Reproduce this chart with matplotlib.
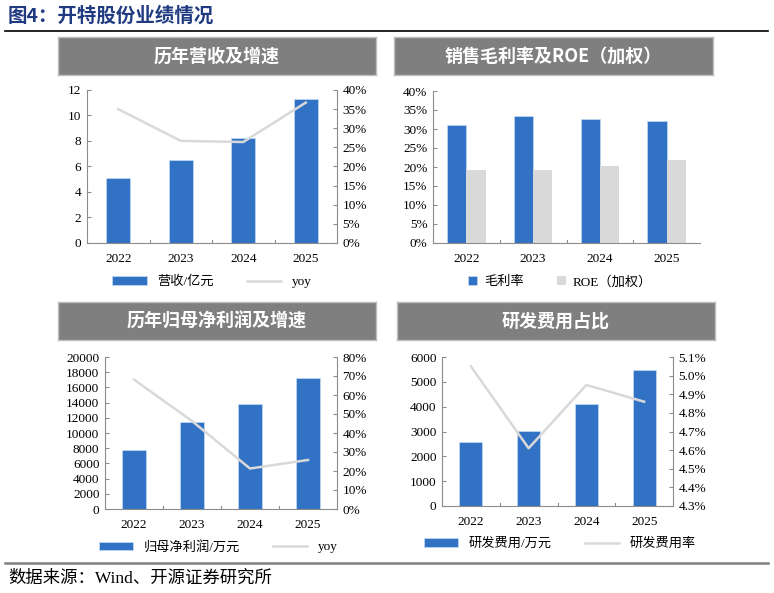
import matplotlib.pyplot as plt
import numpy as np
from matplotlib.ticker import FuncFormatter, MultipleLocator

plt.rcParams["font.family"] = ["Liberation Serif", "Noto Sans CJK SC"]
plt.rcParams["font.size"] = 9.5

W, H = 774, 593

years = ["2022", "2023", "2024", "2025"]

revenue = [5.08, 6.51, 8.24, 11.27]          # 亿元
revenue_yoy = [35.0, 26.7, 26.4, 36.7]       # %

gross_margin = [31.0, 33.4, 32.5, 32.0]      # %
roe = [19.2, 19.2, 20.3, 21.9]               # %

net_profit = [7770, 11400, 13880, 17290]     # 万元
profit_yoy = [68.1, 46.3, 21.3, 25.8]        # %

rd_expense = [2590, 3020, 4100, 5490]        # 万元
rd_ratio = [5.05, 4.61, 4.95, 4.86]          # %

BLUE = "#3172C5"
EDGE = "#BDD7EE"
LGRAY = "#D9D9D9"
AXC = "#8C8C8C"
CJK = ["Noto Sans CJK SC", "DejaVu Sans"]
LEG = {"family": ["Liberation Serif", "Noto Sans CJK SC"], "size": 9.5}

fig = plt.figure(figsize=(W / 100, H / 100), dpi=100)


def rect(x0, y0, x1, y1):
    # pixel box (top-left origin) -> figure fraction
    return [x0 / W, 1 - y1 / H, (x1 - x0) / W, (y1 - y0) / H]


def header(x0, y0, x1, y1, text):
    ax = fig.add_axes(rect(x0, y0, x1, y1))
    ax.set_facecolor("#7F7F7F")
    for s in ax.spines.values():
        s.set_color("#BFBFBF")
        s.set_linewidth(1.0)
    ax.set_xticks([])
    ax.set_yticks([])
    ax.text(0.5, 0.5, text, color="white", fontsize=13, fontweight="bold",
            ha="center", va="center", family=CJK, transform=ax.transAxes)


def style_axes(ax, right=None):
    for s in ["top", "right"]:
        ax.spines[s].set_visible(False)
    for s in ["left", "bottom"]:
        ax.spines[s].set_color(AXC)
    ax.tick_params(axis="y", length=3, color=AXC, direction="in", pad=4)
    ax.tick_params(axis="x", length=0, pad=7)
    ax.set_xlim(-0.5, 3.5)
    # category separators on the x axis
    for xb in [0.5, 1.5, 2.5]:
        ax.plot([xb, xb], [0, 0.02], transform=ax.get_xaxis_transform(),
                color=AXC, lw=0.8, clip_on=False)
    if right is not None:
        for s in ["top", "left", "bottom"]:
            right.spines[s].set_visible(False)
        right.spines["right"].set_color(AXC)
        right.tick_params(axis="y", length=3, color=AXC, direction="in", pad=4)


def pct(dec):
    return FuncFormatter(lambda v, p: f"{v:.{dec}f}%")


x = np.arange(len(years))

# ---- panel 1: 营收及增速
header(58, 37, 376, 75, "历年营收及增速")
ax1 = fig.add_axes(rect(87, 90, 337, 243))
ax1.bar(x, revenue, width=0.39, color=BLUE, edgecolor=EDGE, lw=0.6, label="营收/亿元")
ax1.set_ylim(0, 12)
ax1.yaxis.set_major_locator(MultipleLocator(2))
ax1.set_xticks(x, years)
r1 = ax1.twinx()
r1.plot(x, revenue_yoy, color=LGRAY, lw=1.8, label="yoy")
r1.set_ylim(0, 40)
r1.yaxis.set_major_locator(MultipleLocator(5))
r1.yaxis.set_major_formatter(pct(0))
style_axes(ax1, r1)
h1, l1 = ax1.get_legend_handles_labels()
h2, l2 = r1.get_legend_handles_labels()
fig.legend(h1 + h2, l1 + l2, loc="center", bbox_to_anchor=(212 / W, 1 - 282 / H),
           ncol=2, frameon=False, handlelength=2.6, handleheight=0.6,
           columnspacing=2.5, prop=LEG)

# ---- panel 2: 毛利率及ROE
header(394, 37, 713, 75, "销售毛利率及ROE（加权）")
ax2 = fig.add_axes(rect(433, 91, 700, 243))
bw = 0.29
ax2.bar(x - bw / 2, gross_margin, width=bw, color=BLUE, edgecolor=EDGE, lw=0.6, label="毛利率")
ax2.bar(x + bw / 2, roe, width=bw, color=LGRAY, label="ROE（加权）")
ax2.set_ylim(0, 40)
ax2.yaxis.set_major_locator(MultipleLocator(5))
ax2.yaxis.set_major_formatter(pct(0))
ax2.set_xticks(x, years)
style_axes(ax2)
ax2.legend(loc="center", bbox_to_anchor=(560 / W, 1 - 282 / H),
           bbox_transform=fig.transFigure, ncol=2, frameon=False,
           handlelength=0.7, handleheight=0.7, handletextpad=0.5,
           columnspacing=2.5, prop=LEG)

# ---- panel 3: 归母净利润及增速
header(58, 302, 376, 340, "历年归母净利润及增速")
ax3 = fig.add_axes(rect(105, 357, 337, 509))
ax3.bar(x, net_profit, width=0.4, color=BLUE, edgecolor=EDGE, lw=0.6, label="归母净利润/万元")
ax3.set_ylim(0, 20000)
ax3.yaxis.set_major_locator(MultipleLocator(2000))
ax3.set_xticks(x, years)
r3 = ax3.twinx()
r3.plot(x, profit_yoy, color=LGRAY, lw=1.8, label="yoy")
r3.set_ylim(0, 80)
r3.yaxis.set_major_locator(MultipleLocator(10))
r3.yaxis.set_major_formatter(pct(0))
style_axes(ax3, r3)
h1, l1 = ax3.get_legend_handles_labels()
h2, l2 = r3.get_legend_handles_labels()
fig.legend(h1 + h2, l1 + l2, loc="center", bbox_to_anchor=(218 / W, 1 - 547 / H),
           ncol=2, frameon=False, handlelength=2.6, handleheight=0.6,
           columnspacing=2.5, prop=LEG)

# ---- panel 4: 研发费用占比
header(397, 302, 715, 340, "研发费用占比")
ax4 = fig.add_axes(rect(442, 357, 673, 506))
ax4.bar(x, rd_expense, width=0.4, color=BLUE, edgecolor=EDGE, lw=0.6, label="研发费用/万元")
ax4.set_ylim(0, 6000)
ax4.yaxis.set_major_locator(MultipleLocator(1000))
ax4.set_xticks(x, years)
r4 = ax4.twinx()
r4.plot(x, rd_ratio, color=LGRAY, lw=1.8, label="研发费用率")
r4.set_ylim(4.3, 5.1)
r4.set_yticks(np.arange(4.3, 5.11, 0.1))
r4.yaxis.set_major_formatter(pct(1))
style_axes(ax4, r4)
h1, l1 = ax4.get_legend_handles_labels()
h2, l2 = r4.get_legend_handles_labels()
fig.legend(h1 + h2, l1 + l2, loc="center", bbox_to_anchor=(560 / W, 1 - 544 / H),
           ncol=2, frameon=False, handlelength=2.6, handleheight=0.6,
           columnspacing=2.5, prop=LEG)

# ---- title, rules, source
fig.text(8 / W, 1 - 16 / H, "图4：开特股份业绩情况", color="#1F3A80", fontsize=14,
         fontweight="bold", family=CJK, va="center", ha="left")
fig.add_artist(plt.Line2D([5 / W, 768 / W], [1 - 31 / H, 1 - 31 / H], color="black", lw=1.2))
fig.add_artist(plt.Line2D([5 / W, 768 / W], [1 - 563 / H, 1 - 563 / H], color="#7F7F7F", lw=1.8))
fig.text(8 / W, 1 - 579 / H, "数据来源：Wind、开源证券研究所", fontsize=12.5,
         family=["Liberation Serif", "Noto Sans CJK SC"], va="center", ha="left")

fig.savefig("out.png", dpi=100)
